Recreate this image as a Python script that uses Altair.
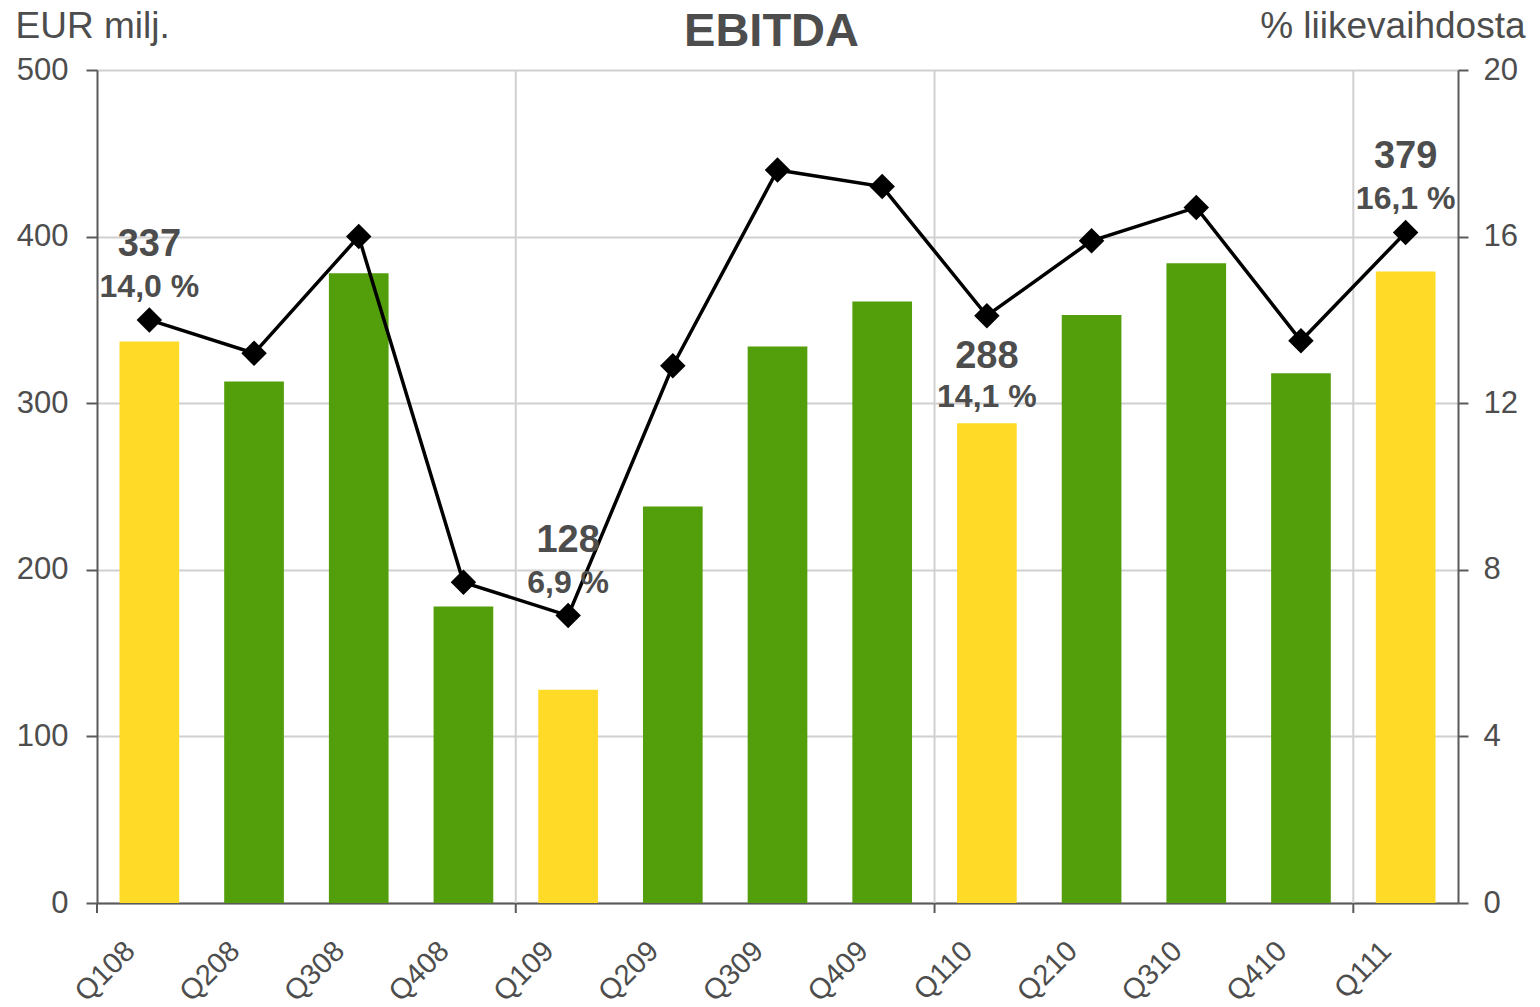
import altair as alt
import pandas as pd

quarters = ["Q108", "Q208", "Q308", "Q408", "Q109", "Q209", "Q309", "Q409",
            "Q110", "Q210", "Q310", "Q410", "Q111"]
ebitda = [337, 313, 378, 178, 128, 238, 334, 361, 288, 353, 384, 318, 379]
margin = [14.0, 13.2, 16.0, 7.7, 6.9, 12.9, 17.6, 17.2, 14.1, 15.9, 16.7, 13.5, 16.1]
highlight = [True, False, False, False, True, False, False, False, True, False, False, False, True]

label_quarters = ["Q108", "Q109", "Q110", "Q111"]
label_values = ["337", "128", "288", "379"]
label_pcts = ["14,0 %", "6,9 %", "14,1 %", "16,1 %"]
label_pos = ["above", "above", "below", "above"]

year_bounds = [4, 8, 12]
bound_ticks = [0, 4, 8, 12]

YELLOW = "#FFDA26"
GREEN = "#529E0B"
TXT = "#4D4D4D"
AXC = "#5A5A5A"
GRID = "#D0D0D0"
FONT = "Liberation Sans"

df = pd.DataFrame({"q": quarters, "ebitda": ebitda, "margin": margin,
                   "hl": ["y" if h else "g" for h in highlight]})
lab = pd.DataFrame({"q": label_quarters, "val": label_values, "pct": label_pcts,
                    "pos": label_pos})
lab = lab.merge(df[["q", "margin", "ebitda"]], on="q")

W, H = 1361, 833

xband = alt.X("q:N", sort=quarters,
              scale=alt.Scale(paddingInner=0.43, paddingOuter=0.215),
              axis=alt.Axis(title=None, labelAngle=-45, labelAlign="right",
                            labelBaseline="middle", labelFontSize=29,
                            labelColor=TXT, labelFont=FONT, ticks=False,
                            domainColor=AXC, domainWidth=2, labelPadding=43,
                            labelOffset=-19, grid=False))

yleft = alt.Y("ebitda:Q", scale=alt.Scale(domain=[0, 500], nice=False),
              axis=alt.Axis(values=[0, 100, 200, 300, 400, 500], title="EUR milj.",
                            titleAngle=0, titleX=-82, titleY=-33, titleAlign="left",
                            titleBaseline="alphabetic", titleFontSize=37,
                            titleFontWeight="normal", titleColor=TXT, titleFont=FONT,
                            labelFontSize=31, labelColor=TXT, labelFont=FONT,
                            tickSize=11, tickColor=AXC, tickWidth=2,
                            domainColor=AXC, domainWidth=2, labelPadding=18,
                            grid=True, gridColor=GRID, gridWidth=2))

bars = alt.Chart(df).mark_bar().encode(
    x=xband, y=yleft,
    color=alt.Color("hl:N", scale=alt.Scale(domain=["y", "g"], range=[YELLOW, GREEN]),
                    legend=None))

yright_axis = alt.Axis(values=[0, 4, 8, 12, 16, 20], orient="right",
                       title="% liikevaihdosta", titleAngle=0, titleX=67, titleY=-33,
                       titleAlign="right", titleBaseline="alphabetic", titleFontSize=37,
                       titleFontWeight="normal", titleColor=TXT, titleFont=FONT,
                       labelFontSize=31, labelColor=TXT, labelFont=FONT,
                       tickSize=10, tickColor=AXC, tickWidth=2,
                       domainColor=AXC, domainWidth=2, labelPadding=15, grid=False)
rscale = alt.Scale(domain=[0, 20], nice=False)

base_line = alt.Chart(df).encode(x=alt.X("q:N", sort=quarters),
                                 y=alt.Y("margin:Q", scale=rscale, axis=yright_axis))
line = base_line.mark_line(color="black", strokeWidth=3.5)
pts = base_line.mark_point(shape="diamond", filled=True, color="black", size=650,
                           opacity=1)

lab_base = alt.Chart(lab).encode(x=alt.X("q:N", sort=quarters),
                                 y=alt.Y("margin:Q", scale=rscale, axis=yright_axis))
above = lab_base.transform_filter(alt.datum.pos == "above")
below = lab_base.transform_filter(alt.datum.pos == "below")
t1 = above.mark_text(font=FONT, fontSize=38, fontWeight="bold", color=TXT,
                     baseline="alphabetic", dy=-64).encode(text="val:N")
t2 = above.mark_text(font=FONT, fontSize=32, fontWeight="bold", color=TXT,
                     baseline="alphabetic", dy=-23).encode(text="pct:N")
t3 = below.mark_text(font=FONT, fontSize=38, fontWeight="bold", color=TXT,
                     baseline="alphabetic", dy=52).encode(text="val:N")
t4 = below.mark_text(font=FONT, fontSize=32, fontWeight="bold", color=TXT,
                     baseline="alphabetic", dy=91).encode(text="pct:N")

linegroup = alt.layer(line, pts, t1, t2, t3, t4)
main = alt.layer(bars, linegroup).resolve_scale(y="independent")

bdf = pd.DataFrame({"b": year_bounds})
tdf = pd.DataFrame({"b": bound_ticks})
xq = alt.Scale(domain=[0, 13], nice=False, zero=False)
vgrid = alt.Chart(bdf).mark_rule(color=GRID, strokeWidth=2).encode(
    x=alt.X("b:Q", scale=xq, axis=None),
    y=alt.datum(0, scale=alt.Scale(domain=[0, 500], nice=False), axis=None),
    y2=alt.datum(500))
xticks = alt.Chart(tdf).mark_rule(color=AXC, strokeWidth=2).encode(
    x=alt.X("b:Q", scale=xq, axis=None),
    y=alt.value(H), y2=alt.value(H + 10))
grid = alt.layer(vgrid, xticks)

chart = alt.layer(grid, main).resolve_scale(x="independent", y="independent").properties(
    width=W, height=H,
    autosize=alt.AutoSizeParams(type="none"),
    padding={"left": 89, "top": 62, "right": 70, "bottom": 104},
    title=alt.TitleParams("EBITDA", fontSize=47, fontWeight="bold", color=TXT,
                          font=FONT, anchor="middle", offset=14, dy=63, dx=-6),
).configure_view(stroke=None).configure(background="white")

chart.save("out.html", embed_options={"renderer": "svg", "actions": False})
